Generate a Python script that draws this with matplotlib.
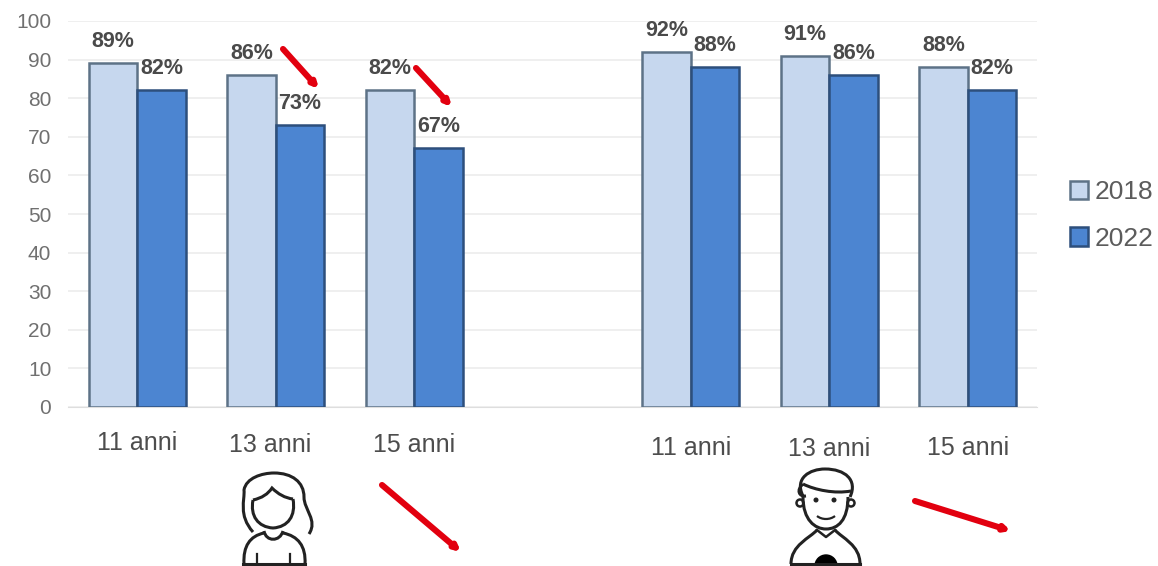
import numpy as np
import matplotlib
matplotlib.use('Agg')
import matplotlib.pyplot as plt
from matplotlib.patches import Circle, Wedge, PathPatch
from matplotlib.path import Path
from matplotlib.transforms import ScaledTranslation

plt.rcParams['font.family'] = ['Liberation Sans', 'DejaVu Sans']

# ===== DATA =====
ages = ['11 anni', '13 anni', '15 anni', '', '11 anni', '13 anni', '15 anni']
val_2018 = [89, 86, 82, np.nan, 92, 91, 88]
val_2022 = [82, 73, 67, np.nan, 88, 86, 82]
yticks = [0, 10, 20, 30, 40, 50, 60, 70, 80, 90, 100]

W, H = 1158, 566
LIGHT = '#c6d7ee'
DARK = '#4c85d1'
TEXT = '#5c5c5c'
RED = '#e2000f'

fig = plt.figure(figsize=(W / 100, H / 100), dpi=100)
ax = fig.add_axes([68 / W, 1 - 407 / H, (1037 - 68) / W, (407 - 21) / H])

# ===== BARS =====
x = np.arange(len(ages))
w = 0.35
b1 = ax.bar(x - w / 2, val_2018, w, color=LIGHT, edgecolor='#5d7287', linewidth=1.8, label='2018', zorder=3)
b2 = ax.bar(x + w / 2, val_2022, w, color=DARK, edgecolor='#2d4f7c', linewidth=1.8, label='2022', zorder=3)

# percent labels sit a fixed distance over the bars
for xs, vals in [(x - w / 2, val_2018), (x + w / 2, val_2022)]:
    for xi, v in zip(xs, vals):
        if not np.isnan(v):
            ax.annotate(f'{v:.0f}%', (xi, v), xytext=(0, 15.5), textcoords='offset points',
                        ha='center', va='center', fontsize=15.5, fontweight='bold', color='#4a4a4a', zorder=5)

ax.set_xlim(-0.5, 6.5)
ax.set_ylim(0, 100)
ax.set_yticks(yticks)
ax.set_xticks(x)
ax.set_xticklabels(ages, fontsize=18, color='#4d4d4d')
ax.tick_params(axis='x', length=0, pad=17)
ax.tick_params(axis='y', length=0, pad=12, labelsize=15, labelcolor='#707070')
ax.grid(axis='y', color='#ececec', linewidth=1.2, zorder=0)
for s in ['top', 'right', 'left']:
    ax.spines[s].set_visible(False)
ax.spines['bottom'].set_color('#dedede')

# age labels were placed by hand in the original, nudge them (px)
nudges = [(0, 0), (-6, -2), (0, -2), (0, 0), (0, -5), (0, -6), (0, -5)]
for lab, (dx, dy) in zip(ax.get_xticklabels(), nudges):
    lab.set_transform(lab.get_transform() + ScaledTranslation(dx / 100, dy / 100, fig.dpi_scale_trans))

fig.legend(handles=[b1, b2], loc='upper left', bbox_to_anchor=(1070 / W, 1 - 180 / H), frameon=False,
           fontsize=19, labelcolor=TEXT, handlelength=0.7, handleheight=0.7,
           handletextpad=0.22, labelspacing=0.87, borderpad=0, borderaxespad=0)

# ===== OVERLAY (arrows and icons, pixel coords) =====
ov = fig.add_axes([0, 0, 1, 1], facecolor='none')
ov.set_xlim(0, W)
ov.set_ylim(H, 0)
ov.axis('off')


def red_arrow(p0, p1, lw=4.4):
    ov.annotate('', xy=p1, xytext=p0,
                arrowprops=dict(arrowstyle='-|>', color=RED, lw=lw, mutation_scale=7,
                                shrinkA=0, shrinkB=0))


red_arrow((283, 49), (319, 89))
red_arrow((416, 68), (452, 107))
red_arrow((382, 485), (461, 552))
red_arrow((915, 501), (1011, 531))


def curve(pts, lw=2.2):
    # smooth open line through bezier control points
    codes = [Path.MOVETO] + [Path.CURVE4] * (len(pts) - 1)
    ov.add_patch(PathPatch(Path(pts, codes), fill=False, edgecolor='#222222', linewidth=lw))


# girl
curve([(253, 532), (238, 515), (245, 500), (244, 490), (246, 478), (262, 473), (274, 473),
       (292, 473), (304, 482), (304, 497), (304, 510), (318, 520), (309, 534)])
curve([(253, 500), (262, 498), (268, 494), (272, 488), (278, 494), (285, 498), (293, 499)])
curve([(253, 500), (250, 516), (258, 527), (273, 528), (288, 527), (296, 516), (293, 499)])
curve([(264, 531), (266, 542), (280, 542), (283, 531)])
curve([(264, 533), (250, 536), (243, 546), (244, 564)])
curve([(283, 533), (298, 536), (306, 546), (305, 564)])
ov.plot([243, 305], [564, 564], color='#222222', lw=2.2)
ov.plot([257, 257], [554, 564], color='#222222', lw=1.6)
ov.plot([290, 290], [554, 564], color='#222222', lw=1.6)

# boy
curve([(803, 496), (794, 478), (810, 469), (825, 469), (845, 469), (858, 480), (850, 497)])
curve([(803, 484), (815, 490), (835, 494), (851, 491)])
curve([(803, 484), (796, 490), (799, 497), (806, 496)])
curve([(803, 497), (803, 520), (815, 529), (826, 529), (838, 529), (848, 520), (848, 497)])
ov.add_patch(Circle((851, 503), 3.5, fill=False, edgecolor='#222222', linewidth=1.8))
ov.add_patch(Circle((800, 503), 3.5, fill=False, edgecolor='#222222', linewidth=1.8))
ov.add_patch(Circle((816, 500), 1.8, color='#222222'))
ov.add_patch(Circle((834, 500), 1.8, color='#222222'))
curve([(817, 516), (822, 520), (830, 520), (835, 516)], lw=1.6)
curve([(817, 530), (810, 538), (791, 545), (791, 564)])
curve([(835, 530), (842, 538), (860, 545), (860, 564)])
ov.plot([817, 826, 835], [530, 537, 530], color='#222222', lw=1.8)
ov.plot([791, 860], [564, 564], color='#222222', lw=2.2)
ov.add_patch(Wedge((826, 566), 11, 180, 360, color='#000000'))

fig.savefig('out.png', dpi=100)
